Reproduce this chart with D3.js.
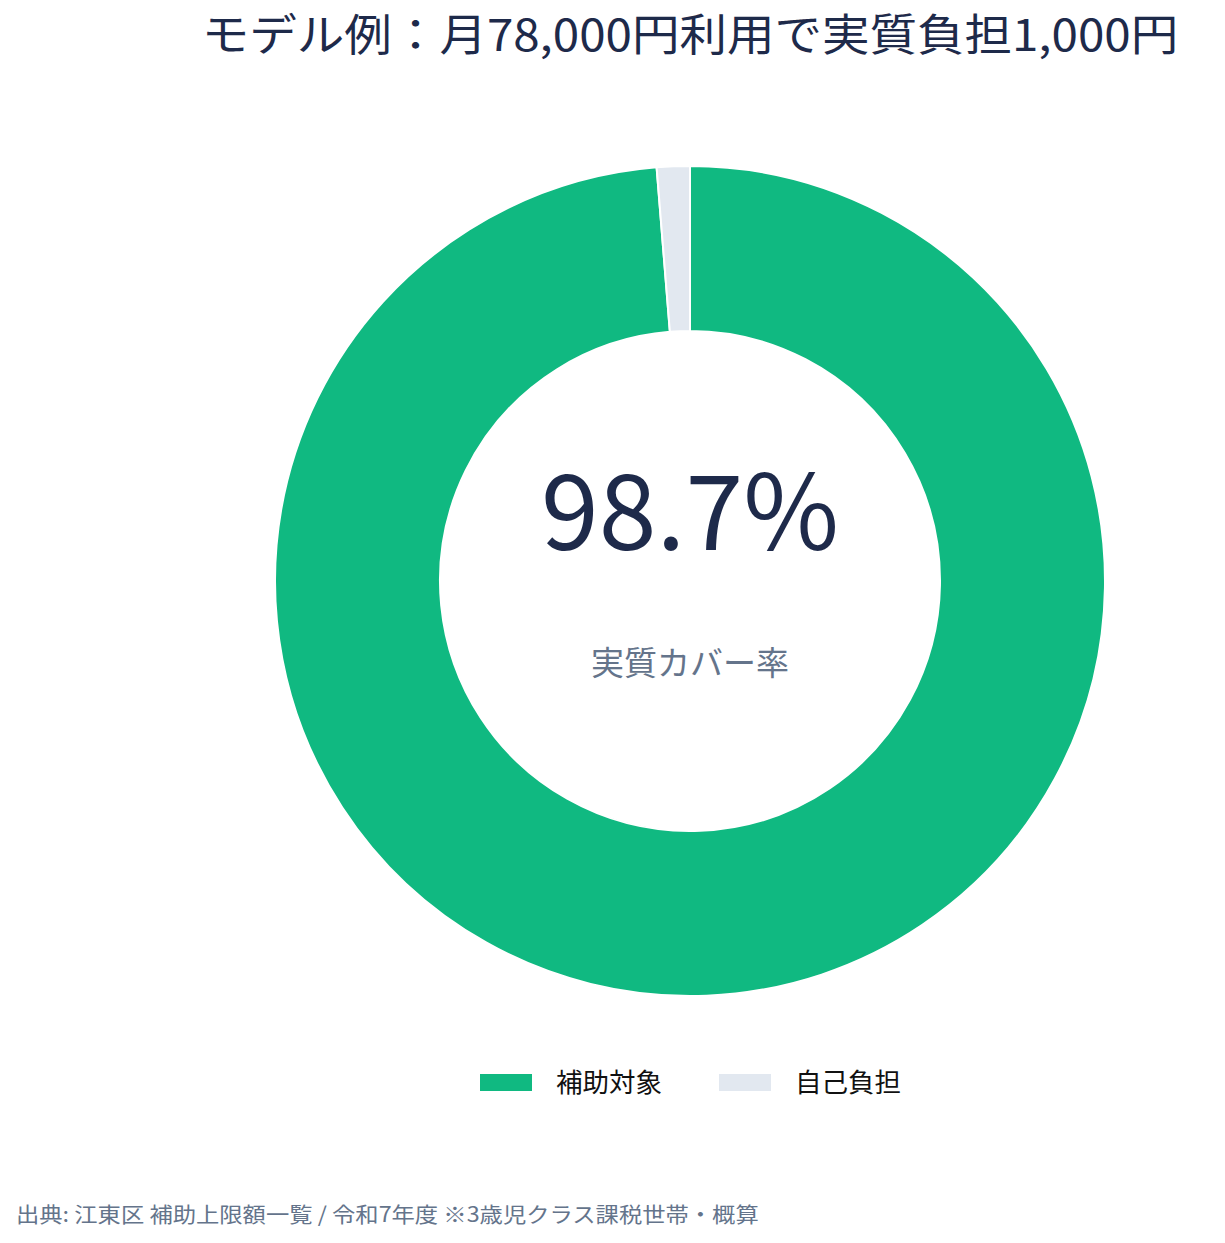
<!DOCTYPE html>
<html><head><meta charset="utf-8">
<script src="https://cdn.jsdelivr.net/npm/d3@7"></script>
<style>body{margin:0;background:#fff;}svg{display:block;font-family:"Noto Sans CJK JP","Noto Sans",sans-serif;}</style>
</head><body>
<svg id="c" width="1225" height="1243"></svg>
<script>
const categories = ["補助対象", "自己負担"];
const values = [77000, 1000];
const colors = ["#10b981", "#e2e8f0"];
const title = "モデル例：月78,000円利用で実質負担1,000円";
const centerValue = "98.7%";
const centerLabel = "実質カバー率";
const source = "出典: 江東区 補助上限額一覧 / 令和7年度 ※3歳児クラス課税世帯・概算";

const svg = d3.select("#c");
const cx = 690, cy = 581, rOut = 415, rIn = 250;

svg.append("text").attr("transform", "translate(690,51) scale(1.08,1)").attr("text-anchor", "middle")
  .attr("font-size", 44).attr("fill", "#1e2a4a").text(title);

const pie = d3.pie().sort(null).value(d => d)(values);
const arc = d3.arc().innerRadius(rIn).outerRadius(rOut);
const g = svg.append("g").attr("transform", `translate(${cx},${cy})`);
g.selectAll("path").data(pie).join("path")
  .attr("d", arc).attr("fill", (d, i) => colors[i])
  .attr("stroke", "#fff").attr("stroke-width", 2);

g.append("text").attr("text-anchor", "middle").attr("y", -31)
  .attr("font-size", 104).attr("fill", "#1e2a4a").text(centerValue);
g.append("text").attr("text-anchor", "middle").attr("y", 94)
  .attr("font-size", 33).attr("fill", "#64748b").text(centerLabel);

const legend = svg.append("g");
const lx = [480, 719];
categories.forEach((c, i) => {
  legend.append("rect").attr("x", lx[i]).attr("y", 1074).attr("width", 52).attr("height", 17).attr("fill", colors[i]);
  legend.append("text").attr("x", lx[i] + 76).attr("y", 1092).attr("font-size", 26.5).attr("fill", "#111").text(c);
});

svg.append("text").attr("transform", "translate(16,1222) scale(1.11,1)").attr("font-size", 21).attr("fill", "#64748b").text(source);
</script>
</body></html>
